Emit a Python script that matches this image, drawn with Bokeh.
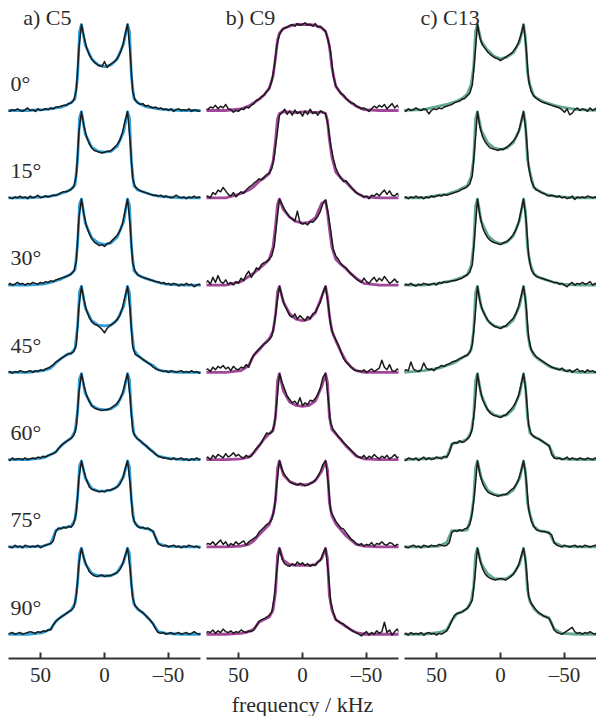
import numpy as np
from bokeh.plotting import figure
from bokeh.layouts import row
from bokeh.models import FixedTicker, Range1d
from bokeh.core.properties import value
from bokeh.embed import file_html
from bokeh.resources import INLINE

# ---------------- data ----------------
FREQ = [76, 74, 72, 70, 68, 66, 64, 62, 60, 58,
        56, 54, 52, 50, 48, 46, 44, 42, 40, 38,
        36, 34, 32, 30, 28, 26, 24, 22, 20, 18,
        16, 14, 12, 10, 8, 6, 4, 2, 0, -2,
        -4, -6, -8, -10, -12, -14, -16, -18, -20, -22,
        -24, -26, -28, -30, -32, -34, -36, -38, -40, -42,
        -44, -46, -48, -50, -52, -54, -56, -58, -60, -62,
        -64, -66, -68, -70, -72, -74, -76]
FIT_FREQ = [76, 60, 48, 42, 38, 34, 30, 26, 23, 21, 19.5, 18, 15, 10, 5, 0,
            -5, -10, -15, -18, -19.5, -21, -23, -26, -30, -34, -38, -42, -48, -60, -76]

ANGLES = ["0°", "15°", "30°", "45°", "60°", "75°", "90°"]
PANEL_TITLES = ["a) C5", "b) C9", "c) C13"]
TICKS = [50, 0, -50]
TICK_LABELS = ["50", "0", "–50"]
X_LABEL = "frequency / kHz"

C5_EXP = [
    [0,-1,1,0,2,0,-1,1,3,0, 1,-1,2,0,1,2,1,3,2,4, 4,5,6,6,8,9,12,24,72,100, 86,73,65,60,56,54,52,51,57,50, 53,55,57,61,66,74,88,100,68,22, 12,9,7,8,5,6,4,3,4,2, 3,1,2,0,2,-1,1,2,0,1, 0,2,-1,1,0,-1,0],
    [1,0,-1,1,0,2,0,1,-1,2, 0,1,3,0,1,2,1,2,3,3, 4,6,7,7,8,10,13,26,76,100, 83,71,63,58,55,54,53,52,53,54, 54,56,59,62,67,76,89,100,66,22, 13,10,8,7,6,5,4,3,3,2, 3,1,2,1,0,1,3,1,0,1, -1,1,0,2,0,1,0],
    [-1,2,0,1,3,1,2,0,2,1, 3,2,1,3,2,4,3,5,4,6, 7,8,9,10,11,13,16,28,78,100, 82,68,60,54,50,48,46,47,45,48, 49,52,55,58,63,71,86,100,70,26, 16,12,10,9,8,7,6,5,4,4, 2,3,1,2,0,2,1,-1,1,0, 2,0,1,-2,0,1,-1],
    [0,1,-1,1,0,2,1,0,1,2, 0,2,1,3,2,4,5,7,9,12, 14,16,18,20,22,22,24,32,76,100, 84,72,64,59,56,55,53,50,46,51, 54,56,58,62,66,75,88,100,72,30, 21,19,17,15,13,11,9,6,4,3, 2,1,2,0,2,1,0,1,2,0, 1,0,2,0,1,-1,0],
    [1,-1,2,0,1,1,0,2,0,1, 2,1,3,2,4,3,5,6,7,9, 13,16,19,21,23,25,28,38,78,100, 86,75,68,63,60,59,58,57,58,58, 59,61,63,66,70,77,89,100,72,34, 27,24,22,19,17,14,11,9,6,4, 3,2,2,1,0,2,0,1,2,0, 1,-1,1,0,2,0,1],
    [1,0,-1,2,0,1,-1,2,1,0, 1,0,2,-1,1,2,3,4,7,18, 22,21,23,22,24,23,27,40,80,100, 88,78,70,67,66,65,64,65,64,66, 66,67,68,70,73,79,90,100,74,36, 27,24,22,23,21,22,20,18,10,4, 2,1,2,0,1,2,0,1,-1,1, 0,2,1,0,1,-1,0],
    [0,1,2,0,1,2,0,1,2,3, 2,1,3,2,4,3,5,5,11,15, 18,20,22,24,26,28,31,45,82,100, 88,80,73,70,68,67,68,69,67,68, 68,69,70,72,75,81,91,100,76,42, 33,30,27,25,22,19,16,12,6,2, 1,2,0,1,2,0,1,2,0,1, 2,0,1,3,1,0,1],
]
C5_FIT = [
    [0, 0, 1, 2, 3, 4, 6, 9, 14, 40, 92, 100, 76, 60, 53, 51, 53, 60, 78, 100, 92, 40, 14, 9, 6, 4, 3, 2, 1, 0, 0],
    [0, 0, 1, 2, 3, 5, 7, 10, 15, 45, 93, 100, 74, 59, 54, 53, 54, 60, 77, 100, 93, 42, 14, 9, 7, 5, 3, 2, 1, 0, 0],
    [0, 0, 1, 3, 5, 7, 10, 13, 18, 48, 94, 100, 72, 55, 49, 47, 49, 56, 74, 100, 93, 45, 17, 12, 9, 7, 5, 3, 1, 0, 0],
    [0, 0, 2, 5, 11, 16, 20, 22, 28, 54, 94, 100, 75, 60, 55, 54, 55, 61, 77, 100, 93, 52, 26, 20, 15, 11, 8, 3, 1, 0, 0],
    [0, 0, 2, 6, 9, 16, 21, 25, 33, 56, 94, 100, 77, 63, 59, 58, 59, 64, 79, 100, 93, 55, 30, 24, 19, 14, 9, 4, 2, 0, 0],
    [0, 0, 1, 4, 19, 22, 23, 24, 32, 58, 94, 100, 80, 68, 65, 65, 66, 70, 82, 100, 93, 55, 30, 24, 22, 21, 18, 4, 1, 0, 0],
    [0, 0, 2, 6, 15, 20, 24, 28, 36, 60, 94, 100, 82, 71, 68, 68, 68, 72, 84, 100, 94, 58, 35, 29, 25, 19, 12, 3, 1, 0, 0],
]

C9_EXP = [
    [2,1,4,3,6,2,5,3,7,2, 1,-2,0,-1,2,1,4,3,6,8, 12,13,16,18,22,25,34,52,76,88, 94,96,97,99,100,98,101,99,100,102, 99,100,98,101,97,98,95,92,82,68, 40,29,24,20,18,14,11,9,8,5, 4,2,3,1,-1,2,5,3,6,4, 7,2,5,8,3,6,2],
    [1,2,0,6,4,9,7,12,8,4, 2,6,1,4,7,5,9,12,14,17, 19,22,21,24,27,29,34,48,72,96, 99,103,97,101,96,102,98,100,95,101, 97,103,98,100,96,101,99,98,84,62, 46,35,28,23,19,20,16,12,9,6, 4,3,1,2,-1,3,2,5,2,6, 9,4,8,3,2,5,1],
    [2,5,1,9,3,11,4,2,6,1, 3,0,4,2,8,5,12,16,9,14, 20,18,24,26,27,30,34,46,74,100, 94,88,83,79,77,74,86,73,71,72, 70,74,73,76,80,86,95,99,84,64, 42,34,30,25,22,20,16,13,10,7, 5,3,8,4,2,6,9,4,8,5, 10,6,2,4,7,3,5],
    [2,4,1,6,3,7,5,8,4,6, 2,7,4,3,6,5,9,6,15,20, 24,27,30,33,35,38,42,56,80,100, 88,78,72,66,64,68,62,66,63,60, 65,62,68,70,76,82,93,100,80,55, 44,38,32,24,16,12,9,6,3,2, 2,1,3,0,2,4,1,3,5,14, 6,3,9,2,1,4,2],
    [1,3,0,5,2,6,4,2,7,3, 5,8,4,6,3,2,5,3,4,9, 13,16,20,26,31,30,32,40,68,100, 90,82,74,70,66,68,64,72,63,66, 64,69,68,71,76,84,96,100,72,42, 35,31,27,24,20,17,14,11,8,5, 3,2,5,1,4,2,6,3,1,4, 2,5,1,3,6,2,4],
    [2,4,3,6,2,5,8,3,6,1, 4,2,6,3,5,7,2,6,8,10, 12,17,20,23,26,28,32,44,74,100, 90,84,80,76,74,73,72,74,73,71, 72,74,75,78,82,88,96,100,76,42, 36,30,26,22,21,17,13,9,7,4, 2,4,1,3,2,5,1,4,3,6, 3,2,5,4,1,3,2],
    [1,3,2,5,1,4,2,6,3,2, 4,1,3,2,5,3,2,4,3,5, 10,15,17,18,20,22,26,44,76,100, 88,82,80,79,82,80,84,81,83,80, 82,79,81,80,84,86,94,100,74,38, 26,17,15,13,12,9,7,5,3,2, 0,-2,1,3,-1,2,0,4,1,3, 14,2,5,-1,3,6,1],
]
C9_FIT = [
    [0, 0, 2, 5, 9, 13, 18, 26, 40, 62, 82, 90, 95, 98, 100, 100, 100, 99, 96, 92, 85, 75, 50, 28, 20, 14, 9, 5, 1, 0, 0],
    [0, 0, 5, 9, 13, 19, 23, 28, 42, 68, 92, 98, 100, 100, 99, 100, 100, 99, 100, 98, 90, 68, 47, 30, 23, 18, 12, 6, 1, 0, 0],
    [0, 0, 4, 10, 14, 19, 24, 30, 44, 70, 94, 100, 88, 79, 74, 72, 73, 78, 95, 98, 85, 66, 44, 30, 24, 19, 13, 8, 2, 0, 0],
    [0, 0, 2, 8, 20, 26, 33, 39, 48, 68, 94, 100, 82, 68, 62, 60, 62, 69, 88, 100, 88, 66, 48, 37, 24, 13, 6, 2, 0, 0, 0],
    [0, 0, 1, 3, 8, 16, 24, 30, 34, 50, 92, 100, 80, 67, 63, 62, 63, 68, 85, 100, 90, 50, 35, 30, 23, 16, 10, 4, 1, 0, 0],
    [0, 0, 1, 3, 7, 14, 20, 26, 38, 55, 92, 100, 84, 76, 73, 72, 73, 77, 88, 100, 90, 52, 36, 27, 20, 13, 8, 3, 1, 0, 0],
    [0, 0, 1, 3, 6, 14, 17, 20, 28, 50, 92, 100, 86, 81, 80, 80, 80, 81, 88, 100, 88, 45, 28, 17, 13, 9, 5, 2, 0, 0, 0],
]

C13_EXP = [
    [1,-1,2,0,1,3,1,0,2,1, -4,0,2,1,3,2,4,5,6,7, 9,10,11,13,14,17,20,30,62,100, 84,76,72,68,65,63,61,60,58,60, 62,64,66,69,73,79,88,100,74,34, 22,17,14,12,10,9,8,7,6,5, 4,3,1,-2,2,-5,-3,1,3,0, 2,1,-1,3,0,2,4],
    [0,1,-1,1,0,2,0,1,-1,1, 0,2,1,2,3,2,4,3,4,5, 6,7,8,10,11,13,16,26,60,100, 82,71,65,61,58,57,56,55,57,56, 58,60,63,66,70,76,88,100,76,36, 20,13,9,8,6,5,3,2,3,2, 1,2,0,1,-1,0,2,-2,1,0, 1,0,2,1,0,1,0],
    [-1,1,0,2,0,-1,1,0,2,1, 0,1,2,0,3,2,4,3,4,5, 5,6,7,8,10,12,15,24,60,100, 80,67,60,55,52,50,49,48,47,49, 50,52,55,59,64,72,86,100,76,34, 18,13,10,9,8,7,6,5,4,3, 3,1,2,0,-2,1,3,0,2,1, 3,1,2,4,0,2,1],
    [1,3,2,12,4,2,1,3,11,5, 3,4,2,5,6,8,7,9,10,12, 13,14,16,17,19,20,23,32,62,100, 82,72,66,61,57,55,53,52,51,53, 54,57,60,63,68,76,88,100,78,40, 26,22,18,16,14,12,10,8,6,5, 4,3,5,2,1,3,0,2,4,1, 2,0,3,1,2,0,1],
    [0,-1,2,1,0,2,-1,1,3,0, 2,0,1,3,2,1,4,3,8,18, 20,19,22,20,21,24,27,36,62,100, 82,70,63,58,54,52,51,50,49,51, 52,55,58,62,67,74,87,100,78,40, 30,27,25,24,22,20,18,16,6,2, 1,2,0,1,3,0,2,1,0,2, 1,0,2,1,0,2,1],
    [1,0,-1,1,2,0,1,-1,2,1, 0,2,1,1,3,2,1,2,5,17, 19,18,20,19,21,22,26,40,66,100, 84,74,68,64,62,61,60,59,60,61, 61,63,66,68,72,78,88,100,80,44, 30,24,20,19,18,18,17,16,14,5, 2,1,0,2,1,0,1,2,0,1, 0,2,1,0,1,2,0],
    [0,1,-1,2,0,1,0,2,-1,1, 2,0,1,-1,1,0,2,4,9,16, 22,24,25,26,28,30,34,40,66,100, 86,76,70,67,65,64,63,64,65,64, 63,65,67,70,74,80,90,100,80,44, 36,32,28,25,23,21,20,18,12,5, 2,1,0,2,4,6,8,3,1,2, 0,2,1,3,1,0,2],
]
C13_FIT = [
    [0, 1, 5, 7, 9, 11, 14, 19, 30, 50, 92, 100, 80, 70, 63, 60, 62, 67, 80, 100, 85, 45, 30, 17, 13, 10, 8, 6, 4, 1, 0],
    [0, 0, 3, 4, 6, 8, 11, 14, 24, 45, 92, 100, 78, 64, 58, 56, 58, 64, 80, 100, 86, 45, 30, 12, 8, 5, 3, 2, 1, 0, 0],
    [0, 0, 2, 4, 5, 7, 9, 12, 22, 45, 92, 100, 74, 58, 51, 48, 50, 57, 76, 100, 86, 45, 26, 13, 9, 7, 5, 3, 1, 0, 0],
    [0, 2, 5, 8, 10, 13, 17, 20, 26, 48, 92, 100, 76, 60, 54, 52, 54, 61, 78, 100, 86, 48, 30, 20, 15, 11, 7, 5, 3, 0, 0],
    [0, 1, 2, 3, 18, 20, 21, 24, 32, 50, 92, 100, 75, 58, 52, 50, 52, 59, 77, 100, 86, 50, 31, 27, 24, 20, 16, 3, 1, 0, 0],
    [0, 0, 1, 5, 19, 19, 19, 20, 34, 55, 92, 100, 80, 66, 61, 60, 61, 66, 80, 100, 88, 52, 38, 24, 19, 18, 17, 5, 1, 0, 0],
    [0, 0, 2, 5, 16, 24, 26, 30, 38, 55, 92, 100, 82, 70, 65, 64, 65, 70, 82, 100, 88, 52, 38, 30, 24, 21, 19, 6, 1, 0, 0],
]

# ---------------- layout / style ----------------
FONT = "'Liberation Serif', 'Times New Roman', 'DejaVu Serif', serif"
TEXT_COLOR = "#2b2b2b"
FIT_COLORS = ["#2e9fd8", "#a3479b", "#63a98b"]
EXP_COLOR = "#1a1a1a"
FRAME_W = 192
FRAME_H = 650
PX_PER_UNIT = 0.86
ROW_STEP = 101.5
Y_TOP = 118.6
Y_BOTTOM = Y_TOP - FRAME_H / PX_PER_UNIT
TITLE_X = [63.5, 60.0, 62.5]
TITLE_Y = 108.5
ANGLE_X = 73.5
ANGLE_DY = 31.5
BORDERS = [(8, 3), (3, 3), (3, 0)]
TOP_BORDER = 8

panels = [(C5_EXP, C5_FIT), (C9_EXP, C9_FIT), (C13_EXP, C13_FIT)]
figs = []
for i, (exp_set, fit_set) in enumerate(panels):
    bl, br = BORDERS[i]
    p = figure(frame_width=FRAME_W, frame_height=FRAME_H,
               x_range=Range1d(75, -75), y_range=Range1d(Y_BOTTOM, Y_TOP),
               output_backend="svg", toolbar_location=None, title=None,
               y_axis_location=None, x_axis_location="below",
               min_border_left=bl, min_border_right=br,
               min_border_top=TOP_BORDER, min_border_bottom=0,
               outline_line_color=None, background_fill_color="white",
               border_fill_color="white")
    p.xgrid.visible = False
    p.ygrid.visible = False
    for k in range(len(ANGLES)):
        off = -k * ROW_STEP
        p.line(FIT_FREQ, np.array(fit_set[k], dtype=float) + off,
               line_color=FIT_COLORS[i], line_width=2.8, line_join="round")
        p.line(FREQ, np.array(exp_set[k], dtype=float) + off,
               line_color=EXP_COLOR, line_width=1.5, line_join="round")
        if i == 0:
            p.text(x=[ANGLE_X], y=[off + ANGLE_DY], text=[ANGLES[k]],
                   text_font=value(FONT), text_font_size="22px",
                   text_color=TEXT_COLOR, text_align="left",
                   text_baseline="alphabetic")
    p.text(x=[TITLE_X[i]], y=[TITLE_Y], text=[PANEL_TITLES[i]],
           text_font=value(FONT), text_font_size="22px",
           text_color=TEXT_COLOR, text_align="left", text_baseline="alphabetic")

    ax = p.xaxis[0]
    ax.ticker = FixedTicker(ticks=TICKS)
    ax.major_label_overrides = {t: lab for t, lab in zip(TICKS, TICK_LABELS)}
    ax.minor_tick_line_color = None
    ax.major_tick_in = 6
    ax.major_tick_out = 0
    ax.major_tick_line_width = 2
    ax.major_tick_line_color = "#333333"
    ax.axis_line_width = 2
    ax.axis_line_color = "#333333"
    ax.major_label_text_font = FONT
    ax.major_label_text_font_size = "21px"
    ax.major_label_text_color = TEXT_COLOR
    ax.major_label_standoff = 4
    ax.axis_label = X_LABEL if i == 1 else "\u00a0"
    ax.axis_label_text_font = FONT
    ax.axis_label_text_font_size = "22px"
    ax.axis_label_text_font_style = "normal"
    ax.axis_label_text_color = TEXT_COLOR
    ax.axis_label_standoff = 2
    figs.append(p)

layout = row(*figs, spacing=0)
open("out.html", "w").write(file_html(layout, INLINE))
